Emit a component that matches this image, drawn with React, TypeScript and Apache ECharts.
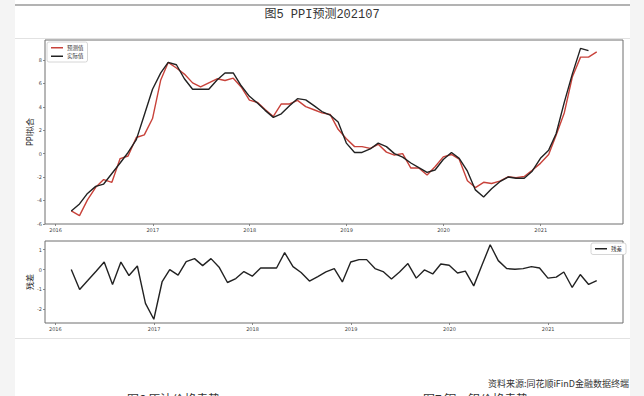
import React, { useEffect, useRef } from 'react';
import * as echarts from 'echarts';

const START_YEAR = 2016;
const START_MONTH = 2; // February 2016, month-end dates

const actual = [
  -4.9, -4.3, -3.4, -2.8, -2.6, -1.7, -0.8, 0.1, 1.2, 3.3, 5.5,
  6.9, 7.8, 7.6, 6.4, 5.5, 5.5, 5.5, 6.3, 6.9, 6.9, 5.8, 4.9,
  4.3, 3.7, 3.1, 3.4, 4.1, 4.7, 4.6, 4.1, 3.6, 3.3, 2.7, 0.9,
  0.1, 0.1, 0.4, 0.9, 0.6, 0.0, -0.3, -0.8, -1.2, -1.6, -1.4, -0.5,
  0.1, -0.4, -1.5, -3.1, -3.7, -3.0, -2.4, -2.0, -2.1, -2.1, -1.5, -0.4,
  0.3, 1.7, 4.4, 6.8, 9.0, 8.8,
];

const predicted = [
  -4.9, -5.3, -3.95, -2.88, -2.22, -2.45, -0.42, -0.2, 1.38, 1.6, 3.0,
  6.3, 7.8, 7.32, 6.8, 6.05, 5.7, 6.05, 6.4, 6.25, 6.45, 5.7, 4.57,
  4.38, 3.78, 3.18, 4.25, 4.25, 4.55, 4.02, 3.75, 3.48, 3.35, 2.08, 1.28,
  0.6, 0.6, 0.45, 0.8, 0.13, -0.12, 0.0, -1.23, -1.22, -1.82, -1.12, -0.28,
  -0.07, -0.48, -2.32, -2.9, -2.45, -2.55, -2.35, -1.98, -2.05, -1.95, -1.42, -0.83,
  -0.08, 1.58, 3.5, 6.55, 8.25, 8.25, 8.7,
];

const residual = [
  0.0, -1.0, -0.55, -0.08, 0.38, -0.75, 0.38, -0.3, 0.18, -1.7, -2.5,
  -0.6, 0.0, -0.28, 0.4, 0.55, 0.2, 0.55, 0.1, -0.65, -0.45, -0.1, -0.33,
  0.08, 0.08, 0.08, 0.85, 0.15, -0.15, -0.58, -0.35, -0.12, 0.05, -0.62, 0.38,
  0.5, 0.5, 0.05, -0.1, -0.47, -0.12, 0.3, -0.43, -0.02, -0.22, 0.28, 0.22,
  -0.17, -0.08, -0.82, 0.2, 1.25, 0.45, 0.05, 0.02, 0.05, 0.15, 0.08, -0.43,
  -0.38, -0.12, -0.9, -0.25, -0.75, -0.55,
];

const yearTicks = [2016, 2017, 2018, 2019, 2020, 2021];
const topYTicks = [-6, -4, -2, 0, 2, 4, 6, 8];
const bottomYTicks = [-2, -1, 0, 1];

const DAY = 86400000;
const BASE = Date.UTC(2016, 0, 1);
const monthEndDay = (i: number) =>
  (Date.UTC(START_YEAR, START_MONTH - 1 + i + 1, 0) - BASE) / DAY;
const yearDay = (y: number) => (Date.UTC(y, 0, 1) - BASE) / DAY;
const pad = (lo: number, hi: number) => {
  const r = hi - lo;
  return [lo - 0.05 * r, hi + 0.05 * r];
};
const toPairs = (arr: number[]) => arr.map((v, i) => [monthEndDay(i), v]);

const FONT = 'DejaVu Sans, "Noto Sans CJK SC", sans-serif';
const SPINE = '#6f6f6f';
const RED = '#c8423a';
const BLACK = '#222222';

export default function App() {
  const ref = useRef<HTMLDivElement>(null);
  useEffect(() => {
    if (!ref.current) return;
    const chart = echarts.init(ref.current, undefined, { renderer: 'svg' });
    const topX = pad(monthEndDay(0), monthEndDay(predicted.length - 1));
    const botX = pad(monthEndDay(0), monthEndDay(residual.length - 1));
    const topY = pad(Math.min(...actual, ...predicted), Math.max(...actual, ...predicted));
    const botY = pad(Math.min(...residual), Math.max(...residual));
    const xTickVals = yearTicks.map(yearDay);
    const xAxisCommon = (min: number, max: number, gi: number) => ({
      type: 'value',
      gridIndex: gi,
      min,
      max,
      position: 'bottom',
      axisLine: { show: false, onZero: false },
      splitLine: { show: false },
      axisTick: { show: true, customValues: xTickVals, length: 2, lineStyle: { color: SPINE, width: 0.8 } },
      axisLabel: {
        customValues: xTickVals,
        fontSize: 5,
        color: '#444',
        fontFamily: FONT,
        margin: 3,
        formatter: (v: number) => String(new Date(BASE + Math.round(v) * DAY).getUTCFullYear()),
      },
    });
    const yAxisCommon = (min: number, max: number, gi: number, ticks: number[], name: string) => ({
      type: 'value',
      gridIndex: gi,
      min,
      max,
      position: 'left',
      name,
      nameLocation: 'middle',
      nameRotate: 90,
      nameGap: 11,
      nameMoveOverlap: false,
      nameTextStyle: { fontSize: 8, color: '#222', fontFamily: FONT },
      axisLine: { show: false, onZero: false },
      splitLine: { show: false },
      axisTick: { show: true, customValues: ticks, length: 2, lineStyle: { color: SPINE, width: 0.8 } },
      axisLabel: { customValues: ticks, fontSize: 5, color: '#444', fontFamily: FONT, margin: 3 },
    });
    const legendCommon = {
      orient: 'vertical',
      icon: 'rect',
      itemWidth: 12,
      itemHeight: 1.5,
      itemGap: 3,
      padding: [3, 4, 3, 4],
      borderColor: '#cccccc',
      borderWidth: 0.8,
      borderRadius: 2,
      backgroundColor: '#fff',
      textStyle: { fontSize: 5.5, color: '#333', fontFamily: FONT, padding: [0, 0, 0, -1] },
    };
    chart.setOption({
      animation: false,
      backgroundColor: '#ffffff',
      grid: [
        { left: 45, width: 578, top: 40, height: 184, show: true, borderColor: SPINE, borderWidth: 1, backgroundColor: '#fff' },
        { left: 45, width: 578, top: 241, height: 82, show: true, borderColor: SPINE, borderWidth: 1, backgroundColor: '#fff' },
      ],
      xAxis: [xAxisCommon(topX[0], topX[1], 0), xAxisCommon(botX[0], botX[1], 1)],
      yAxis: [
        yAxisCommon(topY[0], topY[1], 0, topYTicks, 'PPI拟合'),
        yAxisCommon(botY[0], botY[1], 1, bottomYTicks, '残差'),
      ],
      legend: [
        { ...legendCommon, data: ['预测值', '实际值'], left: 47, top: 42 },
        { ...legendCommon, data: ['残差'], left: 591, top: 243 },
      ],
      series: [
        {
          name: '预测值', type: 'line', xAxisIndex: 0, yAxisIndex: 0,
          data: toPairs(predicted), symbol: 'none', lineStyle: { color: RED, width: 1.4 }, itemStyle: { color: RED },
        },
        {
          name: '实际值', type: 'line', xAxisIndex: 0, yAxisIndex: 0,
          data: toPairs(actual), symbol: 'none', lineStyle: { color: BLACK, width: 1.4 }, itemStyle: { color: BLACK },
        },
        {
          name: '残差', type: 'line', xAxisIndex: 1, yAxisIndex: 1,
          data: toPairs(residual), symbol: 'none', lineStyle: { color: BLACK, width: 1.4 }, itemStyle: { color: BLACK },
        },
      ],
      graphic: [
        { type: 'rect', left: 0, top: 0, shape: { width: 15, height: 396 }, style: { fill: '#f4f4f4' }, silent: true },
        { type: 'rect', left: 630, top: 0, shape: { width: 14, height: 396 }, style: { fill: '#f4f4f4' }, silent: true },
        { type: 'line', shape: { x1: 15, y1: 5, x2: 630, y2: 5 }, style: { stroke: '#9a9a9a', lineWidth: 1.5 } },
        { type: 'line', shape: { x1: 15, y1: 38.5, x2: 630, y2: 38.5 }, style: { stroke: '#e2e2e2', lineWidth: 1 } },
        { type: 'line', shape: { x1: 15, y1: 338.5, x2: 630, y2: 338.5 }, style: { stroke: '#e2e2e2', lineWidth: 1 } },
        {
          type: 'text', x: 322, y: 15,
          style: {
            text: '图5 PPI预测202107', fill: '#333', fontSize: 12,
            fontFamily: '"Liberation Mono", "Noto Sans CJK SC", monospace',
            align: 'center', verticalAlign: 'middle',
          },
        },
        {
          type: 'text', x: 629, y: 383,
          style: {
            text: '资料来源:同花顺iFinD金融数据终端', fill: '#333', fontSize: 9,
            fontFamily: '"Noto Sans CJK SC", sans-serif', align: 'right', verticalAlign: 'middle',
          },
        },
        {
          type: 'text', x: 127, y: 392,
          style: { text: '图6 原油价格走势', fill: '#333', fontSize: 12, fontFamily: '"Noto Sans CJK SC", sans-serif', verticalAlign: 'top' },
        },
        {
          type: 'text', x: 423, y: 392,
          style: { text: '图7 铜、铝价格走势', fill: '#333', fontSize: 12, fontFamily: '"Noto Sans CJK SC", sans-serif', verticalAlign: 'top' },
        },
      ],
    });
    return () => chart.dispose();
  }, []);
  return <div ref={ref} style={{ position: 'fixed', left: 0, top: 0, width: 644, height: 396 }} />;
}
